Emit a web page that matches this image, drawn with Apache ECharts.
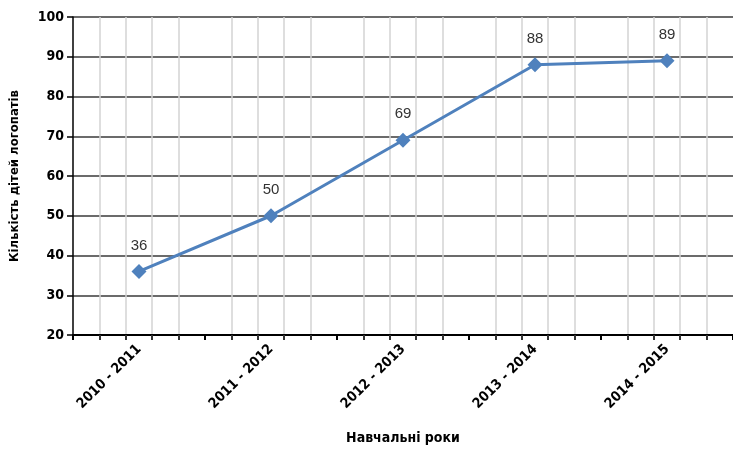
<!DOCTYPE html>
<html>
<head>
<meta charset="utf-8">
<script src="https://cdn.jsdelivr.net/npm/echarts@6/dist/echarts.min.js"></script>
<style>
  html, body { margin: 0; padding: 0; background: #fff; }
  #chart { width: 733px; height: 450px; }
</style>
</head>
<body>
<div id="chart"></div>
<script>
// Навчальні роки та кількість дітей-логопатів
const years = ['2010 - 2011', '2011 - 2012', '2012 - 2013', '2013 - 2014', '2014 - 2015'];
const children = [36, 50, 69, 88, 89];
const yTicks = { min: 20, max: 100, step: 10 };

const boldFont = '"DejaVu Sans Condensed", "Liberation Sans", sans-serif';
const chart = echarts.init(document.getElementById('chart'), null, { renderer: 'canvas' });

chart.setOption({
  animation: false,
  backgroundColor: '#ffffff',
  grid: { left: 71, top: 17, bottom: 113, right: -5, containLabel: false },
  xAxis: [
    {
      type: 'category',
      data: years,
      boundaryGap: true,
      axisLine: { show: false },
      axisTick: { show: false },
      splitLine: { show: false },
      axisLabel: {
        rotate: 45,
        margin: 12,
        color: '#000',
        fontFamily: boldFont,
        fontWeight: 'bold',
        fontSize: 14
      },
      name: 'Навчальні роки',
      nameLocation: 'middle',
      nameGap: 96,
      nameTextStyle: { color: '#000', fontFamily: boldFont, fontWeight: 'bold', fontSize: 14 }
    },
    {
      // scale used only for ticks and the fine vertical grid
      type: 'value',
      min: 0,
      max: years.length,
      interval: 1,
      position: 'bottom',
      axisLine: { show: true, lineStyle: { color: '#000', width: 2 } },
      axisTick: { show: true, inside: false, length: 5, lineStyle: { color: '#000', width: 2 } },
      minorTick: { show: true, splitNumber: 5, length: 5, lineStyle: { color: '#333', width: 2 } },
      axisLabel: { show: false },
      splitLine: { show: false },
      minorSplitLine: { show: true, lineStyle: { color: '#d4d4d4', width: 1.5 } }
    }
  ],
  yAxis: {
    type: 'value',
    min: yTicks.min,
    max: yTicks.max,
    interval: yTicks.step,
    axisLine: { show: true, lineStyle: { color: '#000', width: 1.5 } },
    axisTick: { show: true, inside: false, length: 6, lineStyle: { color: '#000', width: 1.5 } },
    splitLine: { show: true, lineStyle: { color: '#3a3a3a', width: 1.5 } },
    axisLabel: {
      margin: 9,
      color: '#000',
      fontFamily: boldFont,
      fontWeight: 'bold',
      fontSize: 14
    },
    name: 'Кількість дітей логопатів',
    nameLocation: 'middle',
    nameGap: 52,
    nameRotate: 90,
    nameTextStyle: { color: '#000', fontFamily: boldFont, fontWeight: 'bold', fontSize: 13 }
  },
  series: [
    {
      type: 'line',
      xAxisIndex: 0,
      data: children,
      symbol: 'diamond',
      symbolSize: 15,
      lineStyle: { color: '#4f81bd', width: 3 },
      itemStyle: { color: '#4f81bd' },
      label: {
        show: true,
        position: 'top',
        distance: 11,
        color: '#333',
        fontFamily: '"Liberation Sans", "DejaVu Sans", sans-serif',
        fontSize: 15
      }
    }
  ]
});
</script>
</body>
</html>
